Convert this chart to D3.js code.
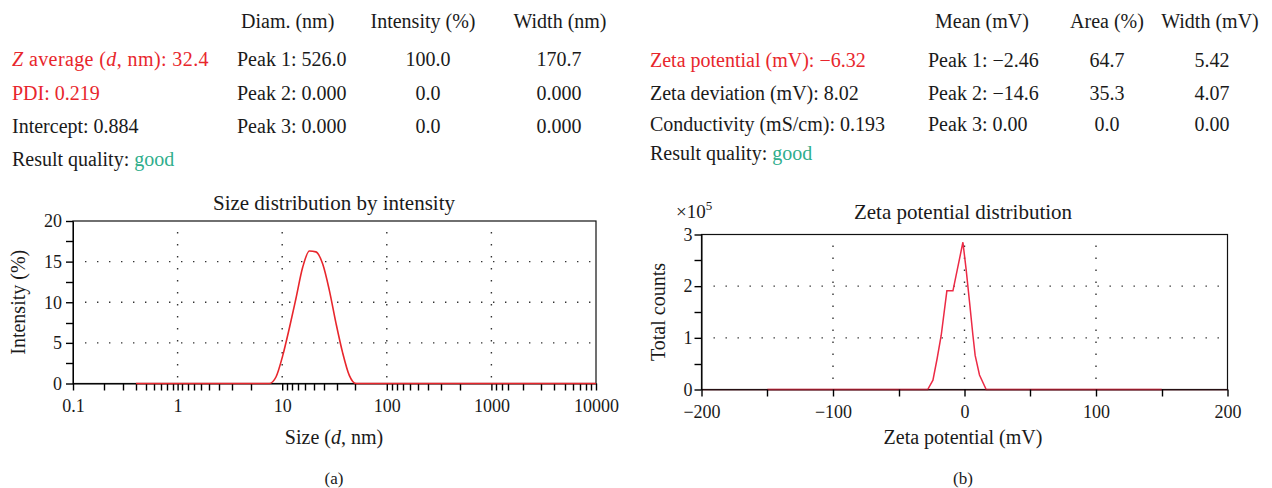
<!DOCTYPE html>
<html lang="en">
<head>
<meta charset="UTF-8">
<title>Size and zeta potential distribution</title>
<script src="https://d3js.org/d3.v7.min.js"></script>
<style>
  body { margin: 0; background: #fff; }
  text { font-family: "Liberation Serif", "Times New Roman", serif; fill: #1a1a1a; }
</style>
</head>
<body>
<div class="canvas"></div>
<script>
  // (a) size distribution by intensity
  const sizeNm = [0.4, 7.53, 8.72, 10.1, 11.7, 13.5, 15.7, 18.2, 21.0, 24.4, 28.2, 32.7, 37.8, 43.8, 50.7, 10000]
  const intensityPct = [0, 0, 0.8, 3.4, 6.8, 10.4, 14.3, 16.3, 16.2, 14.7, 11.5, 7.4, 3.8, 1.0, 0, 0]
  const sizeTicks = [0.1, 1, 10, 100, 1000, 10000]
  const intensityTicks = [0, 5, 10, 15, 20]

  // (b) zeta potential distribution, counts in units of 10^5
  const zetaMv = [-150, -28, -24, -20.8, -17.7, -13.4, -8.8, -1.2, 1.3, 3.8, 6.4, 8.1, 11.4, 16.5, 150]
  const totalCounts = [0, 0, 0.18, 0.60, 1.05, 1.91, 1.91, 2.85, 2.31, 1.70, 1.05, 0.66, 0.28, 0, 0]
  const zetaTicks = [-200, -100, 0, 100, 200]
  const countTicks = [0, 1, 2, 3]

  // result tables
  const sizeHead = ['Diam. (nm)', 'Intensity (%)', 'Width (nm)']
  const sizePeaks = ['Peak 1: 526.0', 'Peak 2: 0.000', 'Peak 3: 0.000']
  const sizeIntensity = ['100.0', '0.0', '0.0']
  const sizeWidth = ['170.7', '0.000', '0.000']
  const zetaHead = ['Mean (mV)', 'Area (%)', 'Width (mV)']
  const zetaPeaks = ['Peak 1: \u22122.46', 'Peak 2: \u221214.6', 'Peak 3: 0.00']
  const zetaArea = ['64.7', '35.3', '0.0']
  const zetaWidth = ['5.42', '4.07', '0.00']

  const RED = '#e8262c'
  const GOOD = '#2fae8c'
  const FONT = '"Liberation Serif", "Times New Roman", serif'

  const svg = d3.select('.canvas')
    .append('svg')
    .attr('width', 1272)
    .attr('height', 488)

  function txt(x, y, s, anchor, size) {
    return svg.append('text')
      .attr('x', x).attr('y', y)
      .attr('text-anchor', anchor || 'start')
      .style('font-size', (size || 20) + 'px')
      .text(s)
  }

  // ---- left table
  txt(241, 28, sizeHead[0])
  txt(423, 28, sizeHead[1], 'middle')
  txt(560, 28, sizeHead[2], 'middle')
  const rowY = [66, 100, 133]
  rowY.forEach((y, i) => {
    txt(237, y, sizePeaks[i])
    txt(428, y, sizeIntensity[i], 'middle')
    txt(559, y, sizeWidth[i], 'middle')
  })
  const za = txt(12, 66, '').style('fill', RED).style('letter-spacing', '0.4px')
  za.append('tspan').style('font-style', 'italic').text('Z')
  za.append('tspan').text(' average (')
  za.append('tspan').style('font-style', 'italic').text('d')
  za.append('tspan').text(', nm): 32.4')
  txt(12, 100, 'PDI: 0.219').style('fill', RED)
  txt(12, 133, 'Intercept: 0.884')
  const rq1 = txt(12, 166, 'Result quality: ')
  rq1.append('tspan').style('fill', GOOD).text('good')

  // ---- right table
  txt(935, 28, zetaHead[0])
  txt(1107, 28, zetaHead[1], 'middle')
  txt(1210, 28, zetaHead[2], 'middle')
  const rowY2 = [67, 100, 131]
  rowY2.forEach((y, i) => {
    txt(928, y, zetaPeaks[i])
    txt(1107, y, zetaArea[i], 'middle')
    txt(1212, y, zetaWidth[i], 'middle')
  })
  txt(650, 67, 'Zeta potential (mV): \u22126.32').style('fill', RED)
  txt(650, 100, 'Zeta deviation (mV): 8.02')
  txt(650, 131, 'Conductivity (mS/cm): 0.193')
  const rq2 = txt(650, 160, 'Result quality: ')
  rq2.append('tspan').style('fill', GOOD).text('good')

  // ---- helpers for the plots
  function styleAxis(g, size) {
    g.attr('font-family', FONT).attr('font-size', size || 18)
    g.selectAll('line').attr('stroke', '#000').attr('stroke-width', 1.4)
    g.selectAll('text').style('fill', '#1a1a1a')
    return g
  }

  // small unlabeled ticks, drawn straight from the scale
  function minor(g, scale, values, horizontal, at) {
    const t = g.append('g').attr('class', 'minor')
    values.forEach(d => {
      const p = Math.round(scale(d)) + 0.5
      t.append('line')
        .attr('x1', horizontal ? p : at - 7)
        .attr('x2', horizontal ? p : at)
        .attr('y1', horizontal ? at : p)
        .attr('y2', horizontal ? at + 7 : p)
        .style('stroke', '#000')
        .style('stroke-width', '1.4px')
    })
    return t
  }

  function grid(g, x, y, xs, ys) {
    const [x0, x1] = x.range()
    const [y0, y1] = y.range()
    g.selectAll('.gh').data(ys).enter().append('line')
      .attr('x1', x0 + 12).attr('x2', x1 - 5)
      .attr('y1', d => y(d)).attr('y2', d => y(d))
    g.selectAll('.gv').data(xs).enter().append('line')
      .attr('x1', d => x(d)).attr('x2', d => x(d))
      .attr('y1', y1 + 11).attr('y2', y0 - 6)
    g.selectAll('line')
      .attr('stroke', '#333').attr('stroke-width', 1.4)
      .attr('stroke-dasharray', '1.4 10.6')
  }

  function box(g, x, y) {
    const [x0, x1] = x.range()
    const [y0, y1] = y.range()
    g.append('rect')
      .attr('x', x0).attr('y', y1)
      .attr('width', x1 - x0).attr('height', y0 - y1)
      .attr('fill', 'none').attr('stroke', '#111').attr('stroke-width', 1.2)
  }

  // ---- (a) size distribution
  const xA = d3.scaleLog().domain([0.1, 10000]).range([73, 596])
  const yA = d3.scaleLinear().domain([0, 20]).range([383.5, 221])
  const gA = svg.append('g')

  grid(gA.append('g'), xA, yA, sizeTicks.slice(1, -1), intensityTicks.slice(1, -1))
  box(gA, xA, yA)

  // minor log ticks: the instrument software mirrors some decades
  const minorA = []
  sizeTicks.slice(0, -1).forEach((b, i) => {
    if (i === 0 || i === 4) d3.range(2, 10).forEach(k => minorA.push(b * k))
    if (i >= 1) d3.range(9, 1, -1).forEach(k => {
      if (i < 4 || k >= 7) minorA.push(b * 10 / k)
    })
  })

  styleAxis(gA.append('g')
    .attr('transform', `translate(0,${yA(0)})`)
    .call(d3.axisBottom(xA).tickValues(sizeTicks).tickSize(7).tickSizeOuter(0).tickPadding(9).tickFormat(d => d)))
  styleAxis(gA.append('g')
    .attr('transform', `translate(${xA(0.1)},0)`)
    .call(d3.axisLeft(yA).tickValues(intensityTicks).tickSize(7).tickSizeOuter(0).tickPadding(4).tickFormat(d3.format('d'))))
  minor(gA, xA, minorA, true, yA(0))
  minor(gA, yA, [2.5, 7.5, 12.5, 17.5], false, xA(0.1))

  const lineA = d3.line()
    .x(d => xA(d[0]))
    .y(d => yA(d[1]))
    .curve(d3.curveMonotoneX)
  gA.append('path')
    .datum(d3.zip(sizeNm, intensityPct))
    .attr('fill', 'none')
    .attr('stroke', RED)
    .attr('stroke-width', 1.6)
    .attr('d', lineA)

  txt(334, 210, 'Size distribution by intensity', 'middle', 21)
  const xtA = txt(334, 444, 'Size (', 'middle', 20)
  xtA.append('tspan').style('font-style', 'italic').text('d')
  xtA.append('tspan').text(', nm)')
  txt(0, 0, 'Intensity (%)', 'middle', 20)
    .attr('transform', `translate(25,${(yA(0) + yA(20)) / 2}) rotate(-90)`)
  txt(334, 484, '(a)', 'middle', 17)

  // ---- (b) zeta potential distribution
  const xB = d3.scaleLinear().domain([-200, 200]).range([701.5, 1227.5])
  const yB = d3.scaleLinear().domain([0, 3]).range([389.5, 234.5])
  const gB = svg.append('g')

  grid(gB.append('g'), xB, yB, zetaTicks.slice(1, -1), countTicks.slice(1, -1))
  box(gB, xB, yB)

  gB.append('path')
    .datum(d3.zip(zetaMv, totalCounts))
    .attr('fill', 'none')
    .attr('stroke', '#ec2a45')
    .attr('stroke-width', 1.5)
    .attr('d', d3.line().x(d => xB(d[0])).y(d => yB(d[1])))

  const axB = styleAxis(gB.append('g')
    .attr('transform', `translate(0,${yB(0)})`)
    .call(d3.axisBottom(xB).tickValues(zetaTicks).tickSize(7).tickSizeOuter(0).tickPadding(9)
      .tickFormat(d => d < 0 ? '\u2212' + Math.abs(d) : d)))
  axB.select('.domain').attr('stroke', '#3a0d12').attr('stroke-width', 1.2)
  styleAxis(gB.append('g')
    .attr('transform', `translate(${xB(-200)},0)`)
    .call(d3.axisLeft(yB).tickValues(countTicks).tickSize(7).tickSizeOuter(0).tickPadding(2).tickFormat(d3.format('d'))))
  minor(gB, xB, [-150, -50, 50, 150], true, yB(0))
  minor(gB, yB, [0.5, 1.5, 2.5], false, xB(-200))

  txt(963, 219, 'Zeta potential distribution', 'middle', 21)
  const exp = txt(676, 218, '\u00d710', 'start', 19)
  exp.append('tspan').attr('dy', -8).style('font-size', '13px').text('5')
  txt(963, 444, 'Zeta potential (mV)', 'middle', 20)
  txt(0, 0, 'Total counts', 'middle', 20)
    .attr('transform', `translate(665,${(yB(0) + yB(3)) / 2}) rotate(-90)`)
  txt(963, 484, '(b)', 'middle', 17)
</script>
</body>
</html>
